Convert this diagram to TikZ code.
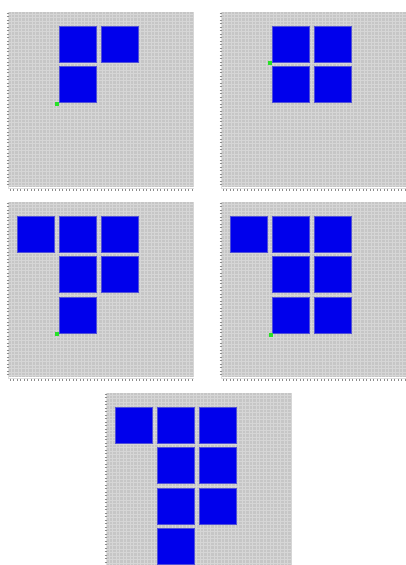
\documentclass[tikz,border=0pt]{standalone}
\usetikzlibrary{calc}
\definecolor{cellblue}{RGB}{0,0,236}
\definecolor{celledge}{RGB}{80,80,215}
\definecolor{boardgray}{RGB}{198,198,198}
\definecolor{gridgray}{RGB}{214,214,214}
\definecolor{seedgreen}{RGB}{40,225,40}

% one board: #1,#2 top left corner, #3 list of col/row cells
\newcommand{\drawboard}[3]{%
  \begin{scope}[shift={(#1,#2)}]
    \fill[boardgray] (0,0) rectangle (185,175);
    \foreach \gx in {2,5.5,...,185} \draw[gridline] (\gx,0) -- (\gx,175);
    \foreach \gy in {2,5.5,...,175} \draw[gridline] (0,\gy) -- (185,\gy);
    \draw[axis] (-1,0) -- (-1,176) -- (185,176);
    \foreach \gy in {1,4.5,...,175} \draw[tickmark] (-2.5,\gy) -- (-0.5,\gy);
    \foreach \gx in {1,4.5,...,185} \draw[tickmark] (\gx,176.5) -- (\gx,178.5);
    \foreach \c/\r in {#3}
      \filldraw[cell] (8+42*\c,14+40.5*\r) rectangle ++(37,36);
  \end{scope}}

\begin{document}
\begin{tikzpicture}[x=1pt,y=-1pt,
  gridline/.style={gridgray,line width=0.35pt},
  axis/.style={white!75!gray,line width=0.6pt},
  tickmark/.style={black!45,line width=0.5pt},
  cell/.style={fill=cellblue,draw=celledge,line width=0.5pt},
  seed/.style={fill=seedgreen}]
  \useasboundingbox[fill=white] (0,0) rectangle (406,565);
  \clip (0,0) rectangle (406,565);
  \drawboard{9}{12}{1/0,2/0,1/1}
  \drawboard{222}{12}{1/0,2/0,1/1,2/1}
  \drawboard{9}{202}{0/0,1/0,2/0,1/1,2/1,1/2}
  \drawboard{222}{202}{0/0,1/0,2/0,1/1,2/1,1/2,2/2}
  \drawboard{107}{393}{0/0,1/0,2/0,1/1,2/1,1/2,2/2,1/3}
  % growth seeds
  \fill[seed] (9+48,12+92) ++(-2,-2) rectangle ++(4,4);
  \fill[seed] (222+48,12+51) ++(-2,-2) rectangle ++(4,4);
  \fill[seed] (9+48,202+132) ++(-2,-2) rectangle ++(4,4);
  \fill[seed] (222+49,202+133) ++(-2,-2) rectangle ++(4,4);
\end{tikzpicture}
\end{document}
